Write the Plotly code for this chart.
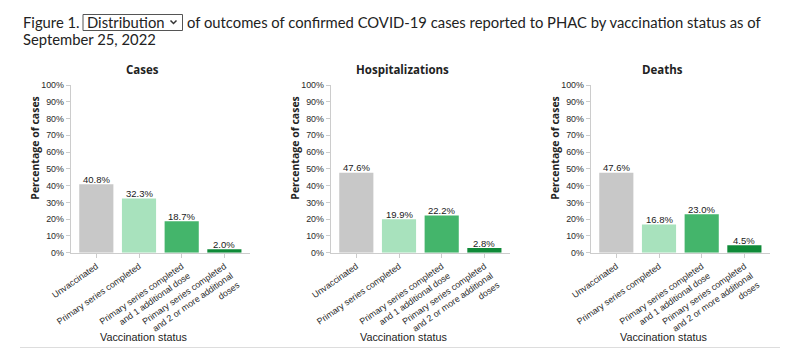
import plotly.graph_objects as go

categories = ["Unvaccinated", "Primary series completed",
              "Primary series completed<br>and 1 additional dose",
              "Primary series completed<br>and 2 or more additional<br>doses"]
panels = ["Cases", "Hospitalizations", "Deaths"]
cases = [40.8, 32.3, 18.7, 2.0]
hospitalizations = [47.6, 19.9, 22.2, 2.8]
deaths = [47.6, 16.8, 23.0, 4.5]
series = [cases, hospitalizations, deaths]
bar_colors = ["#c8c8c8", "#a8e2bd", "#44b56b", "#0f8a38"]
y_ticks = list(range(0, 101, 10))
y_tick_labels = [f"{v}%" for v in y_ticks]

W, H = 799, 350
fig = go.Figure()

TXT = "#2a2a2a"
AX = "#cccccc"
TICKFONT = dict(family="Liberation Sans, Arial", size=8.9, color=TXT)
VALFONT = dict(family="Liberation Sans, Arial", size=9.5, color="#1a1a1a")

for i, vals in enumerate(series):
    sfx = "" if i == 0 else str(i + 1)
    fig.add_trace(go.Bar(
        x=categories, y=vals, xaxis="x" + sfx, yaxis="y" + sfx,
        marker=dict(color=bar_colors, line=dict(width=0)),
        showlegend=False, hoverinfo="skip",
    ))
    for c, v in zip(categories, vals):
        fig.add_annotation(text=f"{v:.1f}%", xref="x" + sfx, yref="y" + sfx,
                           x=c, y=v, showarrow=False, xanchor="center",
                           yanchor="bottom", yshift=-2.5, font=VALFONT)
    x0 = 70.7 + 260 * i
    x1 = 250 + 260 * i
    fig.layout["xaxis" + sfx] = dict(
        domain=[x0 / W, x1 / W], anchor="y" + sfx, range=[-0.6, 3.6],
        showline=True, linecolor=AX, linewidth=1, ticks="outside", ticklen=4,
        tickcolor=AX, tickangle=-35, tickfont=TICKFONT, fixedrange=True,
        showgrid=False, zeroline=False, automargin=False,
    )
    fig.layout["yaxis" + sfx] = dict(
        domain=[(H - 252.7) / H, (H - 85) / H], anchor="x" + sfx, range=[0, 100],
        tickvals=y_ticks, ticktext=y_tick_labels,
        showline=True, linecolor=AX, linewidth=1, ticks="outside", ticklen=4,
        tickcolor=AX, tickfont=TICKFONT, showgrid=False, zeroline=False,
        fixedrange=True, automargin=False,
    )
    # panel title
    fig.add_annotation(text="<b>" + panels[i] + "</b>", xref="paper", yref="paper",
                       x=(142.7 + 260 * i) / W, y=(H - 69) / H, showarrow=False,
                       xanchor="center", yanchor="middle",
                       font=dict(family="Open Sans", size=11.5, color="#222222"))
    # y title
    fig.add_annotation(text="<b>Percentage of cases</b>", xref="paper", yref="paper",
                       x=(35 + 260 * i) / W, y=(H - 147.7) / H, showarrow=False,
                       textangle=-90, xanchor="center", yanchor="middle",
                       font=dict(family="Open Sans", size=10.5, color="#222222"))
    # x title
    fig.add_annotation(text="Vaccination status", xref="paper", yref="paper",
                       x=(143 + 260 * i) / W, y=(H - 336.5) / H, showarrow=False,
                       xanchor="center", yanchor="middle",
                       font=dict(family="Liberation Sans, Arial", size=10.8, color="#222222"))

TITLE_FONT = dict(family="Lato", size=14.8, color="#222222")
fig.add_annotation(text="Figure 1.", xref="paper", yref="paper", x=21 / W, y=(H - 22.5) / H,
                   showarrow=False, xanchor="left", yanchor="middle", font=TITLE_FONT)
fig.add_annotation(text="Distribution", xref="paper", yref="paper", x=85 / W, y=(H - 22.5) / H,
                   showarrow=False, xanchor="left", yanchor="middle", font=TITLE_FONT)
fig.add_annotation(text="of outcomes of confirmed COVID-19 cases reported to PHAC by vaccination status as of",
                   xref="paper", yref="paper", x=185 / W, y=(H - 22.5) / H,
                   showarrow=False, xanchor="left", yanchor="middle", font=TITLE_FONT)
fig.add_annotation(text="September 25, 2022", xref="paper", yref="paper", x=21 / W, y=(H - 38.8) / H,
                   showarrow=False, xanchor="left", yanchor="middle", font=TITLE_FONT)

# dropdown box and chevron
fig.add_shape(type="rect", xref="paper", yref="paper",
              x0=83 / W, x1=182.5 / W, y0=(H - 30.5) / H, y1=(H - 14.5) / H,
              line=dict(color="#555555", width=1), fillcolor="rgba(0,0,0,0)")
fig.add_shape(type="path", xref="paper", yref="paper",
              path=f"M {170.5/W} {(H-20.5)/H} L {173.5/W} {(H-23.5)/H} L {176.5/W} {(H-20.5)/H}",
              line=dict(color="#333333", width=1.5))
# bottom separator line
fig.add_shape(type="line", xref="paper", yref="paper",
              x0=20 / W, x1=780 / W, y0=(H - 347.5) / H, y1=(H - 347.5) / H,
              line=dict(color="#dddddd", width=1))

fig.update_layout(width=W, height=H, margin=dict(l=0, r=0, t=0, b=0, pad=0, autoexpand=False),
                  paper_bgcolor="white", plot_bgcolor="white", bargap=0.2)

fig.write_html("out.html", config={"displayModeBar": False})
